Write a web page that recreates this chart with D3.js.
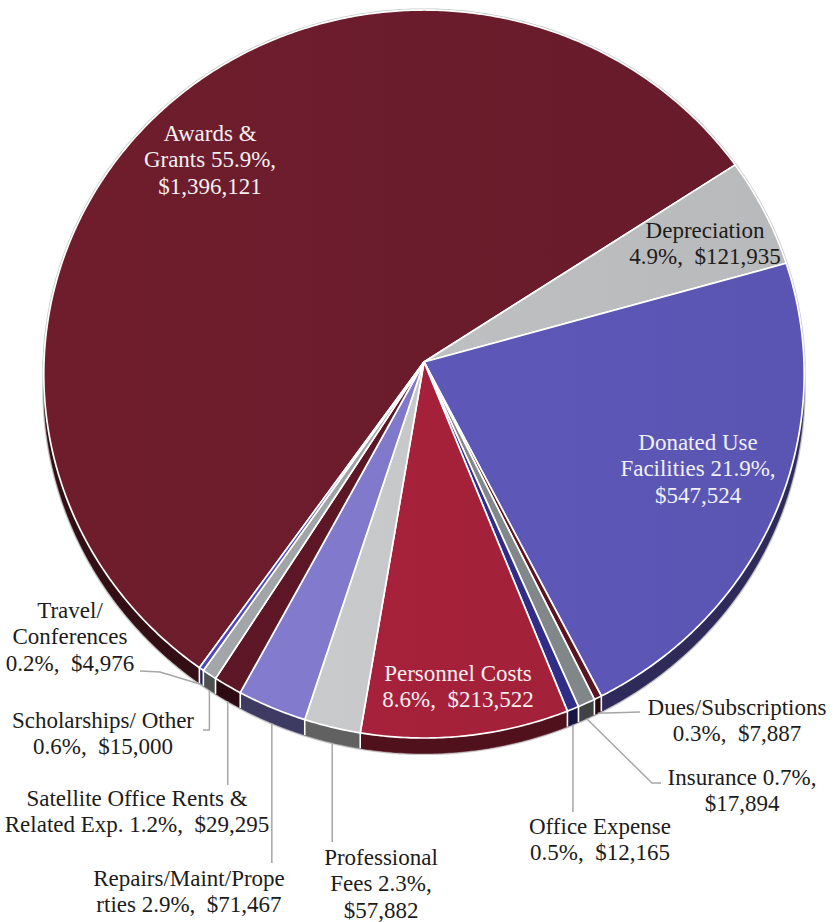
<!DOCTYPE html>
<html><head><meta charset="utf-8">
<script src="https://cdn.jsdelivr.net/npm/d3@7"></script>
<style>html,body{margin:0;padding:0;background:#fff;overflow:hidden}
text{font-family:"Liberation Serif","DejaVu Serif",serif;}</style>
</head><body><div id="chart"></div>
<script>
// ---------- data ----------
const categories = ["Awards & Grants","Depreciation","Donated Use Facilities","Dues/Subscriptions","Insurance","Office Expense","Personnel Costs","Professional Fees","Repairs/Maint/Properties","Satellite Office Rents & Related Exp.","Scholarships/ Other","Travel/ Conferences"];
const amounts = [1396121,121935,547524,7887,17894,12165,213522,57882,71467,29295,15000,4976];
const percents = ["55.9%","4.9%","21.9%","0.3%","0.7%","0.5%","8.6%","2.3%","2.9%","1.2%","0.6%","0.2%"];
const labelLines = [
  ["Awards &","Grants 55.9%,","$1,396,121"],
  ["Depreciation","4.9%,  $121,935"],
  ["Donated Use","Facilities 21.9%,","$547,524"],
  ["Dues/Subscriptions","0.3%,  $7,887"],
  ["Insurance 0.7%,","$17,894"],
  ["Office Expense","0.5%,  $12,165"],
  ["Personnel Costs","8.6%,  $213,522"],
  ["Professional","Fees 2.3%,","$57,882"],
  ["Repairs/Maint/Prope","rties 2.9%,  $71,467"],
  ["Satellite Office Rents &","Related Exp. 1.2%,  $29,295"],
  ["Scholarships/ Other","0.6%,  $15,000"],
  ["Travel/","Conferences","0.2%,  $4,976"]
];
const colors = ["#6a1c2b","#bdbebf","#5d57b7","#5c1522","#82878a","#302d88","#a4213a","#c5c6c8","#7f78c9","#5b1624","#9ea2a4","#4b47b5"];

// ---------- layout / style ----------
const W = 836, H = 922;
const cx = 424, cy = 362, RX = 380, RY = 363.6, K = 0.033, DEPTH = 15;
const FONT = "Liberation Serif, DejaVu Serif, serif";
const labelLayout = [
  {x:210, y:133, fill:"#f4eff0"},
  {x:705, y:230, fill:"#1c1c1c"},
  {x:698, y:442, fill:"#f1f0f8"},
  {x:737, y:707, fill:"#1c1c1c", leader:{pts:[[640,712]]}},
  {x:742, y:777, fill:"#1c1c1c", leader:{pts:[[652,783],[661,783]]}},
  {x:600, y:826, fill:"#1c1c1c", leader:{vy:812}},
  {x:458, y:673, fill:"#f6eef0"},
  {x:381, y:857, fill:"#1c1c1c", leader:{vy:842}},
  {x:189, y:878, fill:"#1c1c1c", leader:{vy:863}},
  {x:137, y:798, fill:"#1c1c1c", leader:{vy:785}},
  {x:103, y:720, fill:"#1c1c1c", leader:{vy:730, hx:203}},
  {x:70,  y:610, fill:"#1c1c1c", leader:{pts:[[160,672],[140,671]]}}
];
const LINE_H = 26.5;

// ---------- helpers ----------
function proj(a, drop){
  const u = Math.sin(a), v = -Math.cos(a), s = 1/(1 - K*v);
  return [cx + RX*u*s, cy + RY*v*s + (drop||0)*s];
}
function rim(a0, a1, drop){
  const n = Math.max(2, Math.ceil(Math.abs(a1-a0)/(Math.PI/360)));
  return d3.range(n+1).map(i => proj(a0 + (a1-a0)*i/n, drop));
}
const line = d3.line();

const total = d3.sum(amounts);
const startDeg = 56.5 - 360*amounts[0]/total;
const s0 = startDeg*Math.PI/180;
const pie = d3.pie().value(d => d).sort(null).startAngle(s0).endAngle(s0 + 2*Math.PI);
const arcs = pie(amounts);
const color = d3.scaleOrdinal(categories, colors);

const svg = d3.select("#chart").append("svg").attr("width", W).attr("height", H);
const defs = svg.append("defs");

// gradients for top faces
arcs.forEach((d,i) => {
  const c = d3.color(color(categories[i]));
  const g = defs.append("linearGradient").attr("id","g"+i)
    .attr("gradientUnits","userSpaceOnUse").attr("x1",cx-RX).attr("y1",0).attr("x2",cx+RX).attr("y2",0);
  g.append("stop").attr("offset","0").attr("stop-color", c.brighter(0.12));
  g.append("stop").attr("offset","1").attr("stop-color", c.darker(0.08));
});

// silhouette outline
const sil = rim(-Math.PI/2, Math.PI/2, 0).concat(rim(Math.PI/2, 1.5*Math.PI, DEPTH));
svg.append("path").attr("d", line(sil) + "Z").attr("fill","#fff")
  .attr("stroke","#c9c9c9").attr("stroke-width",3.2).attr("stroke-linejoin","round");

// walls (front part only)
const fronts = [[-1.5*Math.PI, -0.5*Math.PI],[0.5*Math.PI, 1.5*Math.PI]];
const wallG = svg.append("g");
arcs.forEach((d,i) => {
  fronts.forEach(([f0,f1]) => {
    const a0 = Math.max(d.startAngle, f0), a1 = Math.min(d.endAngle, f1);
    if (a1 <= a0) return;
    const pts = rim(a0, a1, 0).concat(rim(a1, a0, DEPTH));
    wallG.append("path").attr("d", line(pts) + "Z")
      .attr("fill", d3.color(color(categories[i])).darker(2))
      .attr("stroke", d3.color(color(categories[i])).darker(2)).attr("stroke-width",0.6);
  });
});
// wall separators
arcs.forEach(d => {
  const a = d.startAngle;
  const inFront = fronts.some(([f0,f1]) => a > f0 && a < f1);
  if (!inFront) return;
  wallG.append("path").attr("d", line([proj(a,0), proj(a,DEPTH)]))
    .attr("stroke","#fff").attr("stroke-width",1.6);
});

// top faces
svg.append("g").selectAll("path").data(arcs).join("path")
  .attr("d", d => line([[cx,cy]].concat(rim(d.startAngle, d.endAngle, 0))) + "Z")
  .attr("fill", (d,i) => `url(#g${i})`)
  .attr("stroke","#fff").attr("stroke-width",1.7).attr("stroke-linejoin","round");

// leader lines
const leaderG = svg.append("g");
arcs.forEach((d,i) => {
  const L = labelLayout[i].leader;
  if (!L) return;
  const st = proj((d.startAngle + d.endAngle)/2, DEPTH);
  let pts = [st];
  if (L.vy !== undefined){
    pts.push([st[0], L.vy]);
    if (L.hx !== undefined) pts.push([L.hx, L.vy]);
  } else pts = pts.concat(L.pts);
  leaderG.append("path").attr("d", line(pts)).attr("fill","none")
    .attr("stroke","#a6a6a6").attr("stroke-width",1.5);
});

// labels
const labelG = svg.append("g");
labelLines.forEach((lines,i) => {
  const lay = labelLayout[i];
  const t = labelG.append("text").attr("text-anchor","middle")
    .attr("font-family", FONT)
    .attr("font-size", 23).attr("fill", lay.fill).style("white-space","pre");
  lines.forEach((s,j) => {
    t.append("tspan").attr("x", lay.x).attr("y", lay.y + 7.5 + j*LINE_H).text(s);
  });
});
</script>
</body></html>
